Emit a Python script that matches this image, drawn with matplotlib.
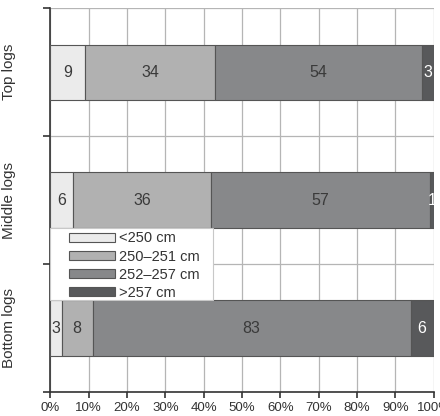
import numpy as np
import matplotlib
matplotlib.use('Agg')
import matplotlib.pyplot as plt
from matplotlib import font_manager
from matplotlib.patches import Rectangle

groups = ['Top logs', 'Middle logs', 'Bottom logs']
classes = ['<250 cm', '250\u2013251 cm', '252\u2013257 cm', '>257 cm']
lt250 = [9, 6, 3]
c250_251 = [34, 36, 8]
c252_257 = [54, 57, 83]
gt257 = [3, 1, 6]
xticks = [0, 10, 20, 30, 40, 50, 60, 70, 80, 90, 100]

names = {f.name for f in font_manager.fontManager.ttflist}
fam = 'Liberation Sans Narrow' if 'Liberation Sans Narrow' in names else 'Liberation Sans'
plt.rcParams['font.family'] = [fam, 'DejaVu Sans']

colors = ['#ebebeb', '#b1b1b1', '#87888a', '#58595b']
txt_colors = ['#3a3a3a', '#3a3a3a', '#3a3a3a', 'white']

fig = plt.figure(figsize=(4.4, 4.16), dpi=100)
ax = fig.add_axes([0.1145, 0.0577, 0.8711, 0.923])

ypos = np.arange(len(groups)) + 0.5
series = [lt250, c250_251, c252_257, gt257]
left = np.zeros(len(groups))
for vals, col, tcol, lab in zip(series, colors, txt_colors, classes):
    vals = np.array(vals, dtype=float)
    ax.barh(ypos, vals, left=left, height=0.43, color=col, edgecolor='#555555',
            linewidth=0.8, label=lab, zorder=3)
    for y, l, v in zip(ypos, left, vals):
        ax.text(l + v / 2, y, '%d' % v, ha='center', va='center',
                fontsize=11.5, color=tcol, zorder=4)
    left += vals

ax.set_xlim(0, 100)
ax.set_ylim(3, 0)
ax.set_xticks(xticks)
ax.set_xticklabels(['%d%%' % t for t in xticks], fontsize=9.5, color='#333333')
ax.set_yticks([0, 1, 2, 3])
ax.set_yticklabels([])
for y, g in zip(ypos, groups):
    ax.text(-0.107, y, g, transform=ax.get_yaxis_transform(), rotation=90,
            ha='center', va='center', fontsize=11, color='#333333')

ax.grid(True, color='#b5b5b5', linewidth=0.9, zorder=0)
ax.set_axisbelow(True)
ax.spines['top'].set_visible(False)
ax.spines['right'].set_visible(False)
ax.spines['left'].set_color('#333333')
ax.spines['bottom'].set_color('#333333')
ax.spines['left'].set_linewidth(1.2)
ax.spines['bottom'].set_linewidth(1.2)
ax.tick_params(axis='y', length=5, width=1.2, color='#333333')
ax.tick_params(axis='x', length=4, width=1.2, color='#333333', pad=3.5)

# white box behind the legend
ax.add_patch(Rectangle((0, 0.2396), 0.424, 0.1874, transform=ax.transAxes,
                       facecolor='white', edgecolor='#c8c8c8', linewidth=0.8,
                       zorder=5))
leg = ax.legend(loc='upper left', bbox_to_anchor=(0.0485, 0.418), frameon=False,
                fontsize=10.5, handlelength=3.15, handleheight=0.62,
                handletextpad=0.25, labelspacing=0.28, borderpad=0,
                borderaxespad=0)
leg.set_zorder(6)
for t in leg.get_texts():
    t.set_color('#333333')

fig.savefig('out.png', dpi=100)
